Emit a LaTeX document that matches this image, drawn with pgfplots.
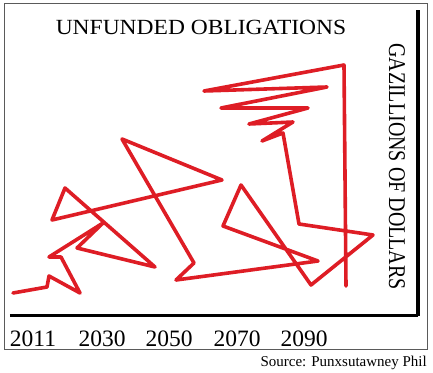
\documentclass[border=0pt]{standalone}
\usepackage{fontspec}
\setmainfont{Liberation Serif}
\usepackage{pgfplots}
\pgfplotsset{compat=1.18}
\definecolor{scribble}{RGB}{222,29,37}
\definecolor{frame}{RGB}{90,90,90}
\begin{document}
\begin{tikzpicture}[x=1pt,y=1pt]
\path (0,0) rectangle (433,372);
\draw[frame, line width=1pt] (4,23) rectangle (427,368);
\begin{axis}[
  at={(10pt,56.5pt)}, anchor=south west,
  scale only axis, width=408pt, height=305.5pt,
  xmin=10, xmax=418, ymin=56.5, ymax=362,
  axis x line=bottom, axis y line=right,
  axis line style={line width=3.5pt, black, -},
  ytick=\empty,
  xtick={33,102,169,237,304},
  xticklabels={2011,2030,2050,2070,2090},
  major tick length=0pt,
  xticklabel style={inner sep=0pt, anchor=north, font=\fontsize{23.5}{28}\selectfont},
  xticklabel shift=15pt,
  clip=false,
]
\addplot[scribble, line width=3.6pt, line join=round, line cap=round, mark=none] coordinates {
(13,79) (47,85) (49,96) (80,79) (61,115) (49,115) (103,149) (77,124)
(155,105) (65,184) (52,152) (222,192) (122,233) (194,109) (176,92)
(318,111) (223,146) (241,187) (311,87) (373,137) (299,148) (283,239)
(262,231) (293,250) (249,248) (308,264) (221,264) (327,285) (204,281)
(344,307) (346,86)
};
\end{axis}
\node[inner sep=0pt, font=\fontsize{23.5}{28}\selectfont, yscale=0.92] at (201,345) {UNFUNDED OBLIGATIONS};
\node[inner sep=0pt, rotate=-90, yscale=1.2, font=\fontsize{20}{24}\selectfont] at (397,205.5) {GAZILLIONS OF DOLLARS};
\node[inner sep=0pt, anchor=base east, font=\fontsize{15}{18}\selectfont] at (427,6) {Source: Punxsutawney Phil};
\end{tikzpicture}
\end{document}
